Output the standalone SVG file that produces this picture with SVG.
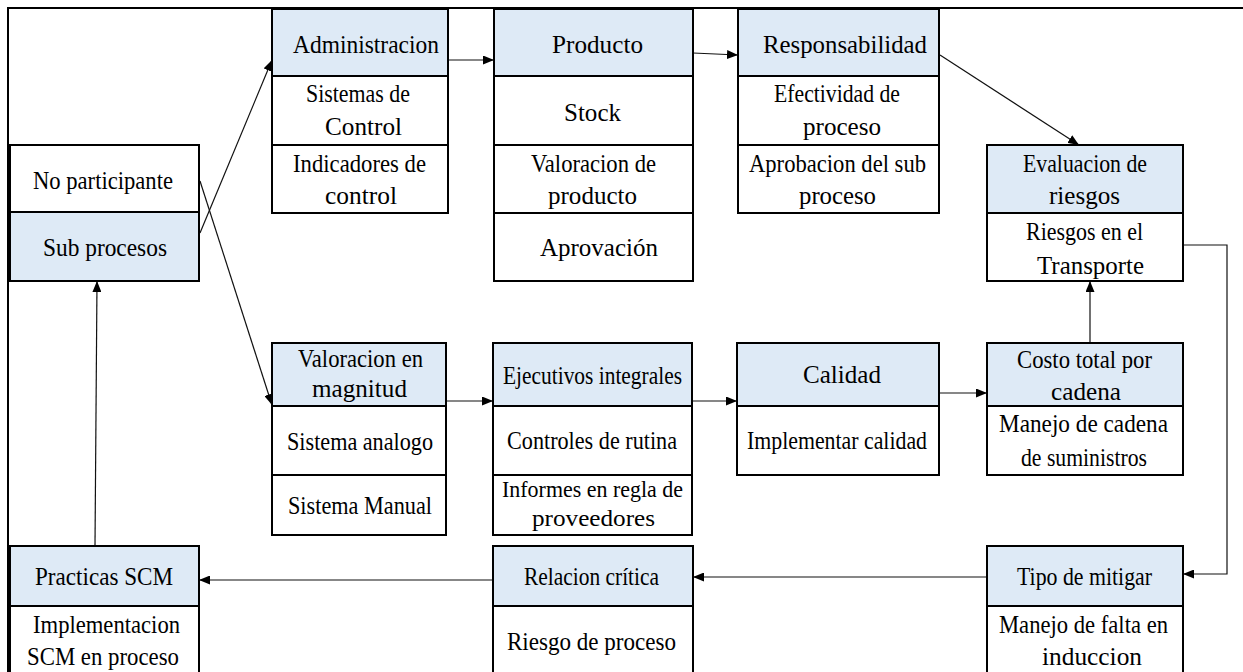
<svg xmlns="http://www.w3.org/2000/svg" width="1243" height="672" viewBox="0 0 1243 672">
<defs>
<style>
.hd{fill:#DEEAF6}
.wh{fill:#FFFFFF}
.bx{fill:none;stroke:#000;stroke-width:2}
.dv{stroke:#000;stroke-width:2}
.c{fill:none;stroke:#111;stroke-width:1.2}
text{font-family:"Liberation Serif","Times New Roman",serif;font-size:26px;fill:#000}
.sm{font-size:23px}
</style>
<marker id="ah" viewBox="0 0 11 9" refX="11" refY="4.5" markerWidth="11" markerHeight="9" markerUnits="userSpaceOnUse" orient="auto">
<path d="M0,0 L11,4.5 L0,9 z" fill="#000"/>
</marker>
</defs>
<rect x="0" y="0" width="1243" height="672" fill="#fff"/>
<path d="M1243,8 H8 V672" fill="none" stroke="#000" stroke-width="2"/>

<g id="connectors">
<path class="c" d="M200,233 L272,60" marker-end="url(#ah)"/>
<path class="c" d="M200,181 L272,405" marker-end="url(#ah)"/>
<path class="c" d="M448,60 L494,60" marker-end="url(#ah)"/>
<path class="c" d="M693,53 L738,55" marker-end="url(#ah)"/>
<path class="c" d="M940,55 L1079,145" marker-end="url(#ah)"/>
<path class="c" d="M1183,245 H1227 V574 H1183" marker-end="url(#ah)"/>
<path class="c" d="M1090,343 V281" marker-end="url(#ah)"/>
<path class="c" d="M447,401 H493" marker-end="url(#ah)"/>
<path class="c" d="M692,401 H737" marker-end="url(#ah)"/>
<path class="c" d="M940,393 H987" marker-end="url(#ah)"/>
<path class="c" d="M987,577 H693" marker-end="url(#ah)"/>
<path class="c" d="M493,580 H199" marker-end="url(#ah)"/>
<path class="c" d="M95,546 L97,281" marker-end="url(#ah)"/>
</g>

<g id="administracion">
<rect class="hd" x="272" y="9" width="176" height="67"/>
<rect class="wh" x="272" y="76" width="176" height="137"/>
<rect class="bx" x="272" y="9" width="176" height="204"/>
<line class="dv" x1="272" y1="76" x2="448" y2="76"/>
<line class="dv" x1="272" y1="145" x2="448" y2="145"/>
<text x="293" y="53" textLength="146" lengthAdjust="spacingAndGlyphs">Administracion</text>
<text x="306" y="102" textLength="104" lengthAdjust="spacingAndGlyphs">Sistemas de</text>
<text x="325" y="135" textLength="77" lengthAdjust="spacingAndGlyphs">Control</text>
<text x="293" y="172" textLength="133" lengthAdjust="spacingAndGlyphs">Indicadores de</text>
<text x="325" y="204" textLength="72" lengthAdjust="spacingAndGlyphs">control</text>
</g>

<g id="producto">
<rect class="hd" x="494" y="9" width="199" height="67"/>
<rect class="wh" x="494" y="76" width="199" height="205"/>
<rect class="bx" x="494" y="9" width="199" height="272"/>
<line class="dv" x1="494" y1="76" x2="693" y2="76"/>
<line class="dv" x1="494" y1="145" x2="693" y2="145"/>
<line class="dv" x1="494" y1="213" x2="693" y2="213"/>
<text x="552" y="53" textLength="91" lengthAdjust="spacingAndGlyphs">Producto</text>
<text x="564" y="121" textLength="57" lengthAdjust="spacingAndGlyphs">Stock</text>
<text x="531" y="172" textLength="125" lengthAdjust="spacingAndGlyphs">Valoracion de</text>
<text x="548" y="204" textLength="89" lengthAdjust="spacingAndGlyphs">producto</text>
<text x="540" y="256" textLength="118" lengthAdjust="spacingAndGlyphs">Aprovación</text>
</g>

<g id="responsabilidad">
<rect class="hd" x="738" y="9" width="201" height="67"/>
<rect class="wh" x="738" y="76" width="201" height="137"/>
<rect class="bx" x="738" y="9" width="201" height="204"/>
<line class="dv" x1="738" y1="76" x2="939" y2="76"/>
<line class="dv" x1="738" y1="145" x2="939" y2="145"/>
<text x="763" y="53" textLength="164" lengthAdjust="spacingAndGlyphs">Responsabilidad</text>
<text x="774" y="102" textLength="126" lengthAdjust="spacingAndGlyphs">Efectividad de</text>
<text x="803" y="135" textLength="78" lengthAdjust="spacingAndGlyphs">proceso</text>
<text x="749" y="172" textLength="177" lengthAdjust="spacingAndGlyphs">Aprobacion del sub</text>
<text x="799" y="204" textLength="77" lengthAdjust="spacingAndGlyphs">proceso</text>
</g>

<g id="evaluacion">
<rect class="hd" x="987" y="145" width="196" height="68"/>
<rect class="wh" x="987" y="213" width="196" height="68"/>
<rect class="bx" x="987" y="145" width="196" height="136"/>
<line class="dv" x1="987" y1="213" x2="1183" y2="213"/>
<text x="1023" y="172" textLength="124" lengthAdjust="spacingAndGlyphs">Evaluacion de</text>
<text x="1049" y="204" textLength="71" lengthAdjust="spacingAndGlyphs">riesgos</text>
<text x="1026" y="240" textLength="117" lengthAdjust="spacingAndGlyphs">Riesgos en el</text>
<text x="1037" y="274" textLength="107" lengthAdjust="spacingAndGlyphs">Transporte</text>
</g>

<g id="no-participante">
<rect class="wh" x="10" y="145" width="189" height="67"/>
<rect class="hd" x="10" y="212" width="189" height="69"/>
<rect class="bx" x="10" y="145" width="189" height="136"/>
<line class="dv" x1="10" y1="212" x2="199" y2="212"/>
<text x="33" y="189" textLength="140" lengthAdjust="spacingAndGlyphs">No participante</text>
<text x="43" y="256" textLength="124" lengthAdjust="spacingAndGlyphs">Sub procesos</text>
</g>

<g id="valoracion">
<rect class="hd" x="272" y="343" width="174" height="63"/>
<rect class="wh" x="272" y="406" width="174" height="129"/>
<rect class="bx" x="272" y="343" width="174" height="192"/>
<line class="dv" x1="272" y1="406" x2="446" y2="406"/>
<line class="dv" x1="272" y1="475" x2="446" y2="475"/>
<text x="298" y="367" textLength="125" lengthAdjust="spacingAndGlyphs">Valoracion en</text>
<text x="312" y="397" textLength="95" lengthAdjust="spacingAndGlyphs">magnitud</text>
<text x="287" y="450" textLength="146" lengthAdjust="spacingAndGlyphs">Sistema analogo</text>
<text x="288" y="514" textLength="144" lengthAdjust="spacingAndGlyphs">Sistema Manual</text>
</g>

<g id="ejecutivos">
<rect class="hd" x="493" y="343" width="199" height="63"/>
<rect class="wh" x="493" y="406" width="199" height="129"/>
<rect class="bx" x="493" y="343" width="199" height="192"/>
<line class="dv" x1="493" y1="406" x2="692" y2="406"/>
<line class="dv" x1="493" y1="475" x2="692" y2="475"/>
<text x="503" y="384" textLength="179" lengthAdjust="spacingAndGlyphs">Ejecutivos integrales</text>
<text x="507" y="449" textLength="170" lengthAdjust="spacingAndGlyphs">Controles de rutina</text>
<text class="sm" x="502" y="497" textLength="181" lengthAdjust="spacingAndGlyphs">Informes en regla de</text>
<text class="sm" x="532" y="526" textLength="123" lengthAdjust="spacingAndGlyphs">proveedores</text>
</g>

<g id="calidad">
<rect class="hd" x="737" y="343" width="202" height="63"/>
<rect class="wh" x="737" y="406" width="202" height="69"/>
<rect class="bx" x="737" y="343" width="202" height="132"/>
<line class="dv" x1="737" y1="406" x2="939" y2="406"/>
<text x="803" y="383" textLength="78" lengthAdjust="spacingAndGlyphs">Calidad</text>
<text x="747" y="449" textLength="180" lengthAdjust="spacingAndGlyphs">Implementar calidad</text>
</g>

<g id="costo">
<rect class="hd" x="987" y="343" width="196" height="63"/>
<rect class="wh" x="987" y="406" width="196" height="69"/>
<rect class="bx" x="987" y="343" width="196" height="132"/>
<line class="dv" x1="987" y1="406" x2="1183" y2="406"/>
<text x="1017" y="368" textLength="135" lengthAdjust="spacingAndGlyphs">Costo  total por</text>
<text x="1051" y="400" textLength="70" lengthAdjust="spacingAndGlyphs">cadena</text>
<text x="999" y="432" textLength="169" lengthAdjust="spacingAndGlyphs">Manejo de cadena</text>
<text x="1021" y="466" textLength="126" lengthAdjust="spacingAndGlyphs">de suministros</text>
</g>

<g id="practicas">
<rect class="hd" x="10" y="546" width="189" height="60"/>
<rect class="wh" x="10" y="606" width="189" height="84"/>
<rect class="bx" x="10" y="546" width="189" height="144"/>
<line class="dv" x1="10" y1="606" x2="199" y2="606"/>
<text x="35" y="585" textLength="138" lengthAdjust="spacingAndGlyphs">Practicas SCM</text>
<text x="33" y="633" textLength="147" lengthAdjust="spacingAndGlyphs">Implementacion</text>
<text x="27" y="665" textLength="152" lengthAdjust="spacingAndGlyphs">SCM en proceso</text>
</g>

<g id="relacion">
<rect class="hd" x="493" y="546" width="200" height="60"/>
<rect class="wh" x="493" y="606" width="200" height="84"/>
<rect class="bx" x="493" y="546" width="200" height="144"/>
<line class="dv" x1="493" y1="606" x2="693" y2="606"/>
<text x="524" y="585" textLength="135" lengthAdjust="spacingAndGlyphs">Relacion crítica</text>
<text x="507" y="650" textLength="169" lengthAdjust="spacingAndGlyphs">Riesgo de proceso</text>
</g>

<g id="tipo">
<rect class="hd" x="987" y="546" width="196" height="60"/>
<rect class="wh" x="987" y="606" width="196" height="84"/>
<rect class="bx" x="987" y="546" width="196" height="144"/>
<line class="dv" x1="987" y1="606" x2="1183" y2="606"/>
<text x="1017" y="585" textLength="135" lengthAdjust="spacingAndGlyphs">Tipo de mitigar</text>
<text x="999" y="633" textLength="169" lengthAdjust="spacingAndGlyphs">Manejo de falta en</text>
<text x="1042" y="665" textLength="100" lengthAdjust="spacingAndGlyphs">induccion</text>
</g>
</svg>
